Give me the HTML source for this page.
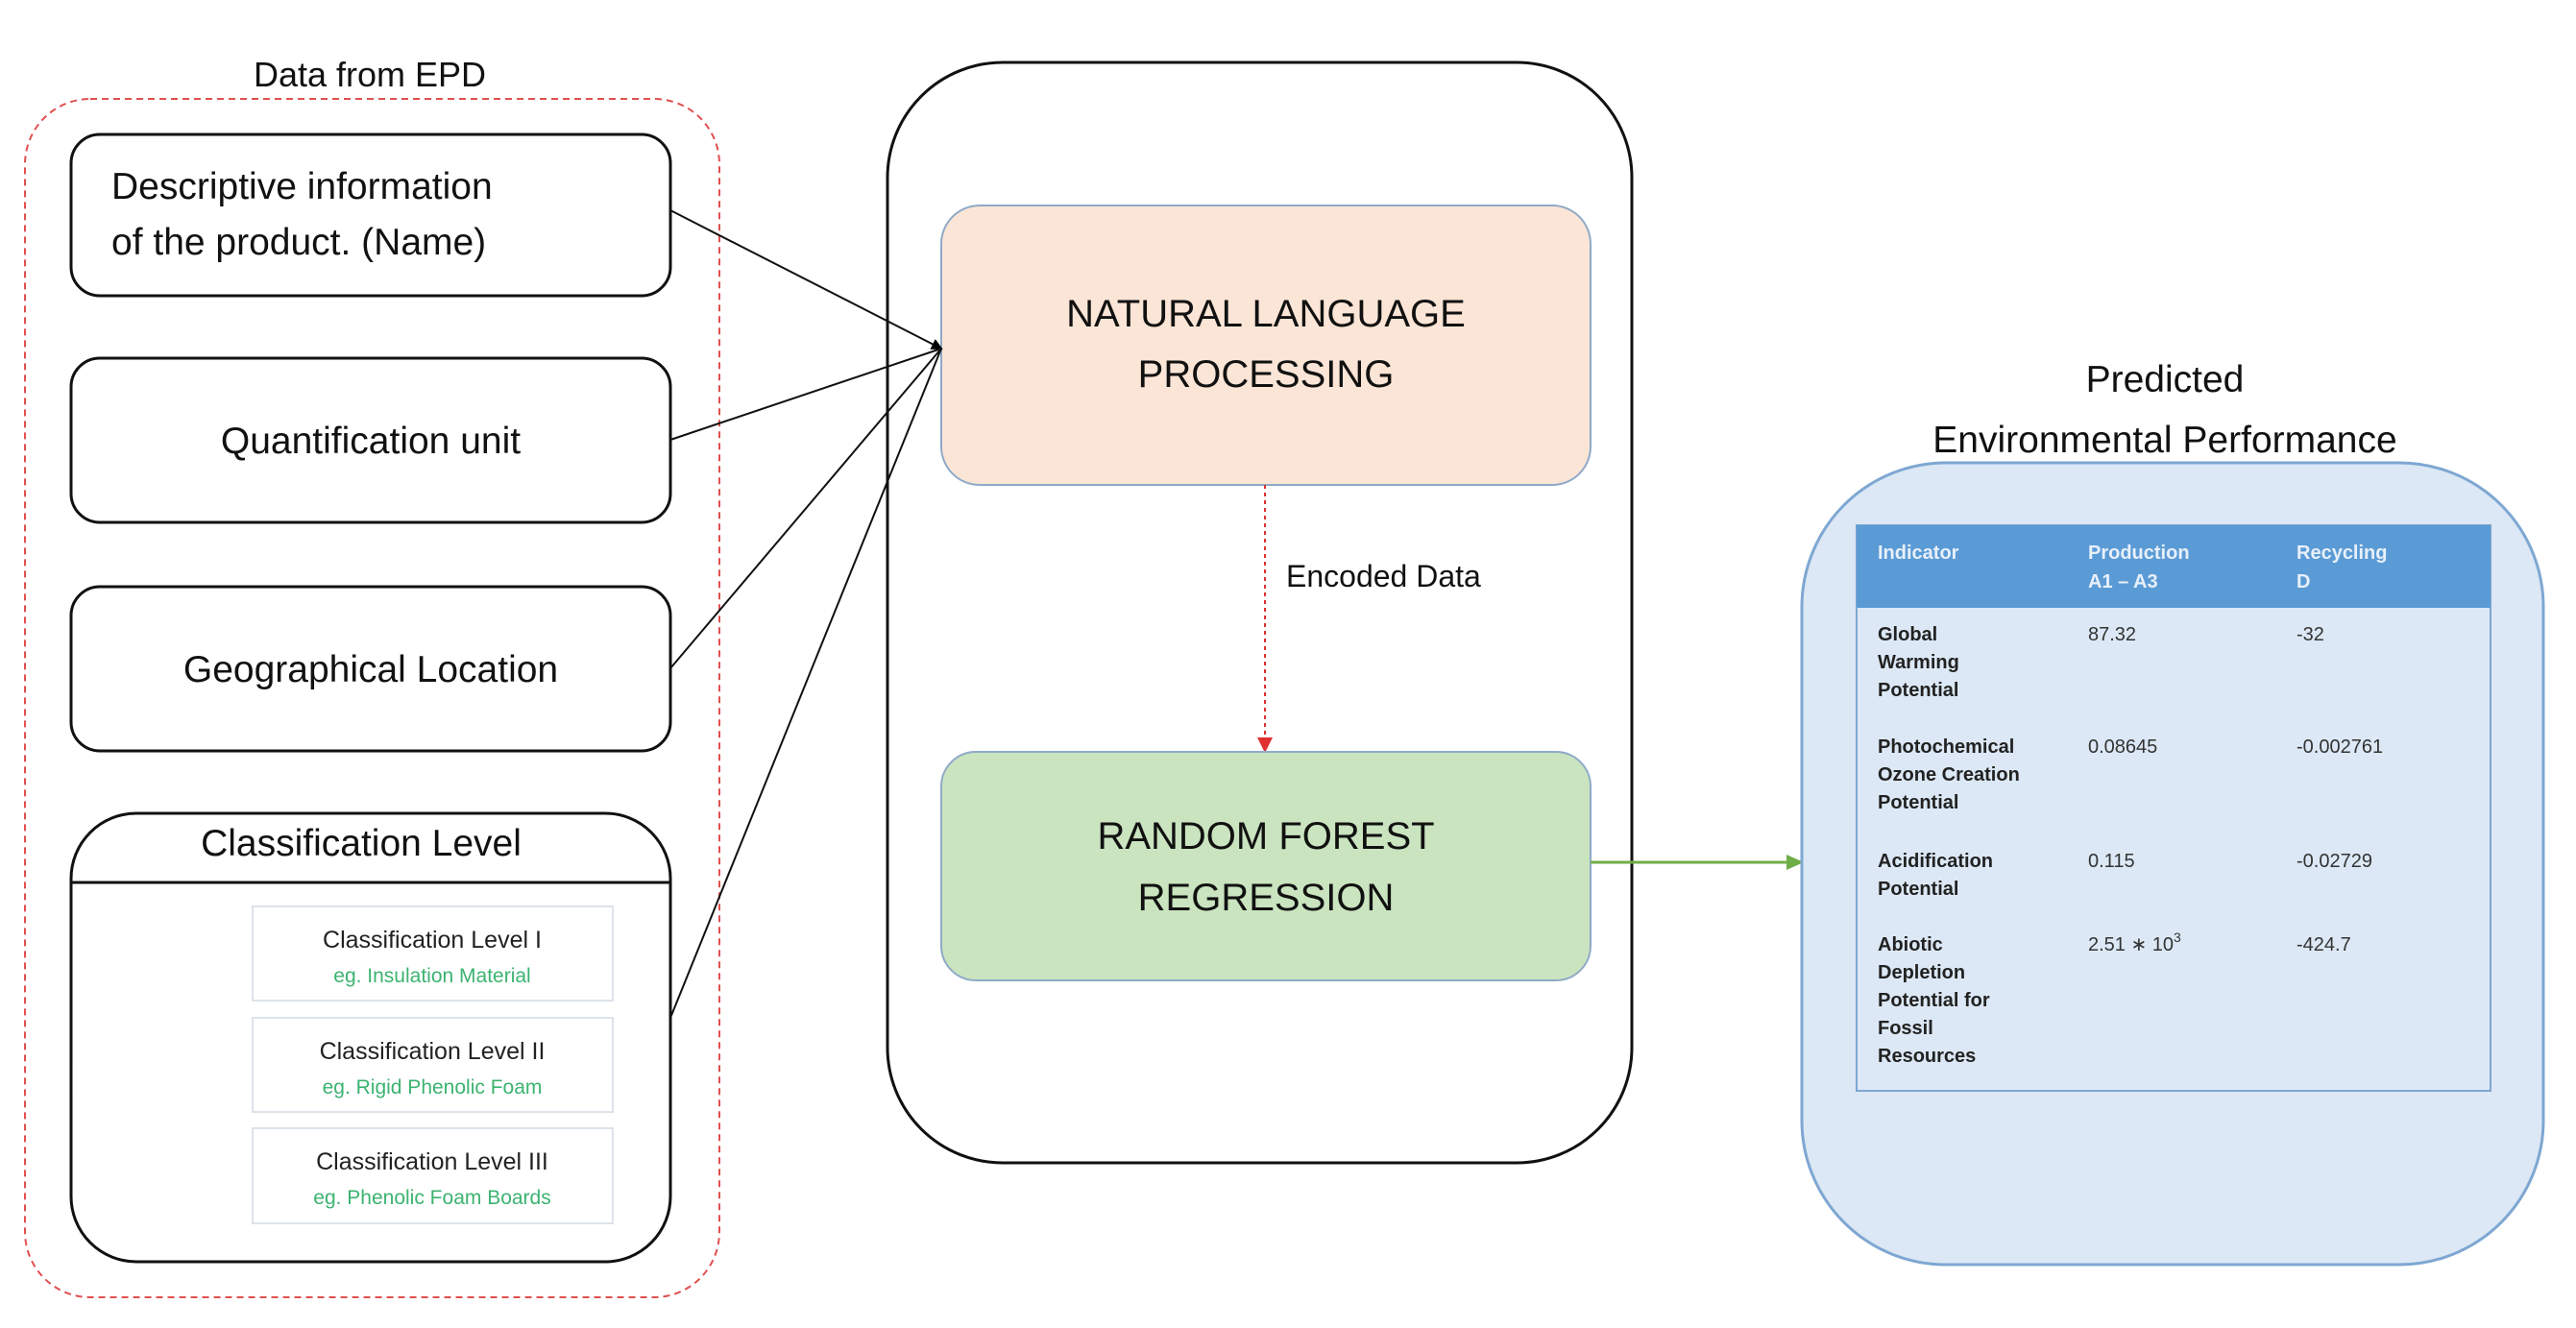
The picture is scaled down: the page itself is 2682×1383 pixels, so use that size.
<!DOCTYPE html>
<html><head><meta charset="utf-8"><style>
html,body{margin:0;padding:0;background:#fff;}
svg{display:block}
text{font-family:"Liberation Sans",sans-serif;}
</style></head><body>
<svg width="2682" height="1383" viewBox="0 0 2682 1383" xmlns="http://www.w3.org/2000/svg">
<defs>
<marker id="ab" markerWidth="12" markerHeight="12" refX="10" refY="6" orient="auto" markerUnits="userSpaceOnUse"><path d="M0,0 L12,6 L0,12 z" fill="#000"/></marker>
<marker id="ar" markerWidth="16" markerHeight="16" refX="14" refY="8" orient="auto" markerUnits="userSpaceOnUse"><path d="M0,0 L16,8 L0,16 z" fill="#e03030"/></marker>
<marker id="ag" markerWidth="18" markerHeight="16" refX="16" refY="8" orient="auto" markerUnits="userSpaceOnUse"><path d="M0,0 L18,8 L0,16 z" fill="#70ad47"/></marker>
</defs>

<text x="385" y="90" font-size="36" text-anchor="middle" fill="#111">Data from EPD</text>
<rect x="26" y="103" width="723" height="1248" rx="68" fill="none" stroke="#e05050" stroke-width="2" stroke-dasharray="7,5"/>

<rect x="74" y="140" width="624" height="168" rx="30" fill="#fff" stroke="#111" stroke-width="3"/>
<text x="116" y="207" font-size="39" fill="#111">Descriptive information</text>
<text x="116" y="265" font-size="39" fill="#111">of the product. (Name)</text>

<rect x="74" y="373" width="624" height="171" rx="30" fill="#fff" stroke="#111" stroke-width="3"/>
<text x="386" y="472" font-size="39" text-anchor="middle" fill="#111">Quantification unit</text>

<rect x="74" y="611" width="624" height="171" rx="30" fill="#fff" stroke="#111" stroke-width="3"/>
<text x="386" y="710" font-size="39" text-anchor="middle" fill="#111">Geographical Location</text>

<rect x="74" y="847" width="624" height="467" rx="68" fill="#fff" stroke="#111" stroke-width="3"/>
<line x1="74" y1="919" x2="698" y2="919" stroke="#111" stroke-width="3"/>
<text x="376" y="891" font-size="39" text-anchor="middle" fill="#111">Classification Level</text>

<rect x="263" y="944" width="375" height="98" fill="#fff" stroke="#dde3ea" stroke-width="2"/>
<text x="450" y="987" font-size="25" text-anchor="middle" fill="#222">Classification Level I</text>
<text x="450" y="1023" font-size="21" text-anchor="middle" fill="#3cb371">eg. Insulation Material</text>
<rect x="263" y="1060" width="375" height="98" fill="#fff" stroke="#dde3ea" stroke-width="2"/>
<text x="450" y="1103" font-size="25" text-anchor="middle" fill="#222">Classification Level II</text>
<text x="450" y="1139" font-size="21" text-anchor="middle" fill="#3cb371">eg. Rigid Phenolic Foam</text>
<rect x="263" y="1175" width="375" height="99" fill="#fff" stroke="#dde3ea" stroke-width="2"/>
<text x="450" y="1218" font-size="25" text-anchor="middle" fill="#222">Classification Level III</text>
<text x="450" y="1254" font-size="21" text-anchor="middle" fill="#3cb371">eg. Phenolic Foam Boards</text>

<rect x="924" y="65" width="775" height="1146" rx="120" fill="#fff" stroke="#111" stroke-width="3"/>
<rect x="980" y="214" width="676" height="291" rx="40" fill="#fbe5d6" stroke="#8faac7" stroke-width="2"/>
<text x="1318" y="340" font-size="40" text-anchor="middle" fill="#111">NATURAL LANGUAGE</text>
<text x="1318" y="403" font-size="40" text-anchor="middle" fill="#111">PROCESSING</text>

<g stroke="#111" stroke-width="2" fill="none">
<line x1="698" y1="219" x2="980" y2="363" marker-end="url(#ab)"/>
<line x1="698" y1="458" x2="980" y2="363"/>
<line x1="698" y1="696" x2="980" y2="363"/>
<line x1="698" y1="1060" x2="980" y2="363"/>
</g>

<line x1="1317" y1="505" x2="1317" y2="782" stroke="#e03030" stroke-width="2" stroke-dasharray="4,4" marker-end="url(#ar)"/>
<text x="1339" y="611" font-size="32" fill="#111">Encoded Data</text>

<rect x="980" y="783" width="676" height="238" rx="36" fill="#c9e4bf" stroke="#8faac7" stroke-width="2"/>
<text x="1318" y="884" font-size="40" text-anchor="middle" fill="#111">RANDOM FOREST</text>
<text x="1318" y="948" font-size="40" text-anchor="middle" fill="#111">REGRESSION</text>

<line x1="1656" y1="898" x2="1876" y2="898" stroke="#70ad47" stroke-width="3" marker-end="url(#ag)"/>

<text x="2254" y="408" font-size="39" text-anchor="middle" fill="#111">Predicted</text>
<text x="2254" y="471" font-size="39" text-anchor="middle" fill="#111">Environmental Performance</text>
<rect x="1876" y="482" width="772" height="835" rx="150" fill="#dce8f5" stroke="#7ea7d2" stroke-width="3"/>
<rect x="1933" y="547" width="660" height="589" fill="#dce8f5" stroke="#7ea7d2" stroke-width="2"/>
<rect x="1933" y="547" width="660" height="86" fill="#5b9bd5"/>
<g font-size="20" font-weight="bold" fill="#e8f0fa">
<text x="1955" y="582">Indicator</text>
<text x="2174" y="582">Production</text><text x="2174" y="612">A1 – A3</text>
<text x="2391" y="582">Recycling</text><text x="2391" y="612">D</text>
</g>
<g font-size="20" font-weight="bold" fill="#222">
<text x="1955" y="667">Global</text><text x="1955" y="696">Warming</text><text x="1955" y="725">Potential</text>
<text x="1955" y="784">Photochemical</text><text x="1955" y="813">Ozone Creation</text><text x="1955" y="842">Potential</text>
<text x="1955" y="903">Acidification</text><text x="1955" y="932">Potential</text>
<text x="1955" y="990">Abiotic</text><text x="1955" y="1019">Depletion</text><text x="1955" y="1048">Potential for</text><text x="1955" y="1077">Fossil</text><text x="1955" y="1106">Resources</text>
</g>
<g font-size="20" fill="#333">
<text x="2174" y="667">87.32</text><text x="2391" y="667">-32</text>
<text x="2174" y="784">0.08645</text><text x="2391" y="784">-0.002761</text>
<text x="2174" y="903">0.115</text><text x="2391" y="903">-0.02729</text>
<text x="2174" y="990">2.51 ∗ 10<tspan font-size="14" dy="-9">3</tspan></text><text x="2391" y="990">-424.7</text>
</g>
</svg>
</body></html>
